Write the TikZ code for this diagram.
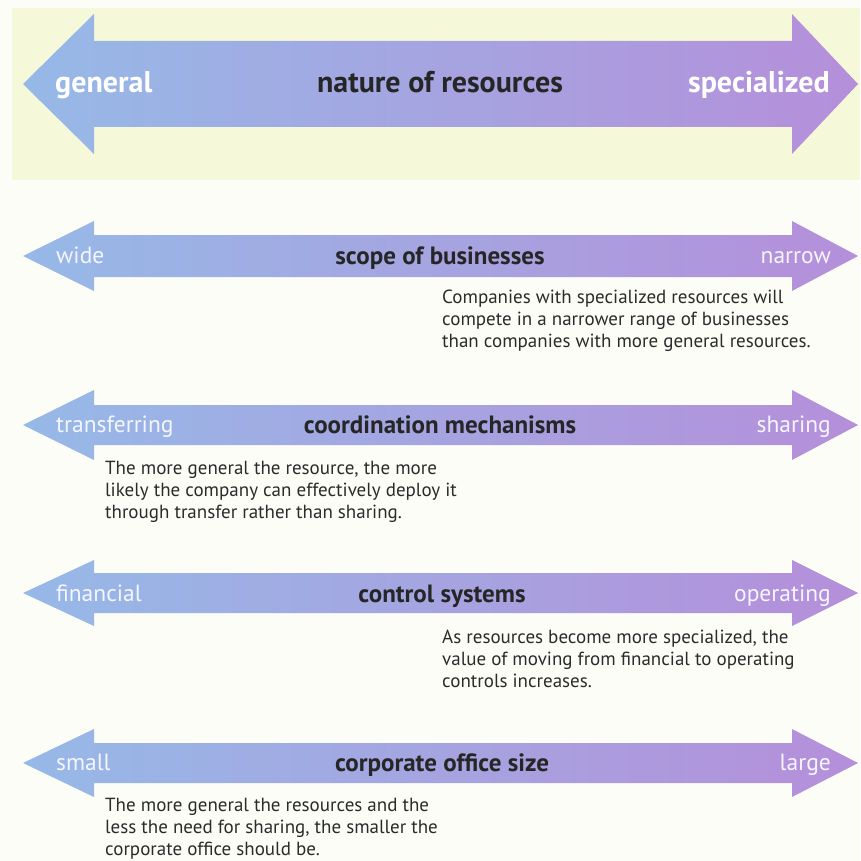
\documentclass[tikz,border=0pt]{standalone}
\usepackage{fontspec}
\setmainfont{PT Sans}
\definecolor{barBlue}{HTML}{96B9E7}
\definecolor{barPurple}{HTML}{B58FDA}
\definecolor{bandYellow}{HTML}{F6F9D9}
\definecolor{pageCream}{HTML}{FDFDF8}
\definecolor{noteInk}{HTML}{2B2B2B}
\tikzset{
    bar_fill/.style={
        left color=barBlue,
        right color=barPurple
    },
    bar_title/.style={
        font=\fontsize{25}{28}\selectfont\bfseries,
        text=black!85,
        inner sep=0pt,
        anchor=base
    },
    bar_end/.style={
        font=\fontsize{23.5}{26}\selectfont,
        text=white!96!blue,
        inner sep=0pt
    },
    big_title/.style={
        font=\fontsize{30}{32}\selectfont\bfseries,
        text=black!85,
        inner sep=0pt,
        anchor=base
    },
    big_end/.style={
        font=\fontsize{30}{32}\selectfont\bfseries,
        text=white,
        inner sep=0pt
    },
    bar_note/.style={
        font=\fontsize{19}{22}\selectfont,
        text=noteInk,
        align=left,
        inner sep=0pt,
        anchor=base west
    }
}
% double-headed bar: #1 centre y, #2 half shaft, #3 half head
\newcommand{\resbar}[3]{
    \shade[bar_fill] (23,#1) -- (94,{#1-#3}) -- (94,{#1-#2}) -- (792,{#1-#2}) -- (792,{#1-#3})
        -- (858,#1) -- (792,{#1+#3}) -- (792,{#1+#2}) -- (94,{#1+#2}) -- (94,{#1+#3}) -- cycle;
}

\begin{document}
\begin{tikzpicture}[x=1pt, y=-1pt]

% --- Page & band ---
\fill[pageCream] (0,0) rectangle (860,861);
\useasboundingbox (0,0) rectangle (860,861);
\fill[bandYellow] (12,8) rectangle (860,180);

% --- Nature of resources ---
\resbar{84}{43}{70}
\node[big_end, anchor=base west] (natGen) at (55,93) {general};
\node[big_title] (natTitle) at (440,93) {nature of resources};
\node[big_end, anchor=base east] (natSpec) at (830,93) {specialized};

% --- Scope of businesses ---
\resbar{256}{21}{35}
\node[bar_end, anchor=base west] (scopeWide) at (56,263) {wide};
\node[bar_title] (scopeTitle) at (440,264) {scope of businesses};
\node[bar_end, anchor=base east] (scopeNarrow) at (831,263) {narrow};
\node[bar_note] (scopeNote) at (442,347) {Companies with specialized resources will\\compete in a narrower range of businesses\\than companies with more general resources.};

% --- Coordination mechanisms ---
\resbar{425}{20}{35}
\node[bar_end, anchor=base west] (coordTransfer) at (56,432) {transferring};
\node[bar_title] (coordTitle) at (440,433) {coordination mechanisms};
\node[bar_end, anchor=base east] (coordShare) at (831,432) {sharing};
\node[bar_note] (coordNote) at (105,518) {The more general the resource, the more\\likely the company can effectively deploy it\\through transfer rather than sharing.};

% --- Control systems ---
\resbar{593}{20}{33}
\node[bar_end, anchor=base west] (ctrlFin) at (56,601) {financial};
\node[bar_title] (ctrlTitle) at (442,602) {control systems};
\node[bar_end, anchor=base east] (ctrlOp) at (831,601) {operating};
\node[bar_note] (ctrlNote) at (442,687) {As resources become more specialized, the\\value of moving from financial to operating\\controls increases.};

% --- Corporate office size ---
\resbar{763}{20}{34}
\node[bar_end, anchor=base west] (officeSmall) at (56,770) {small};
\node[bar_title] (officeTitle) at (442,771) {corporate office size};
\node[bar_end, anchor=base east] (officeLarge) at (831,770) {large};
\node[bar_note] (officeNote) at (105,855) {The more general the resources and the\\less the need for sharing, the smaller the\\corporate office should be.};

\end{tikzpicture}
\end{document}
